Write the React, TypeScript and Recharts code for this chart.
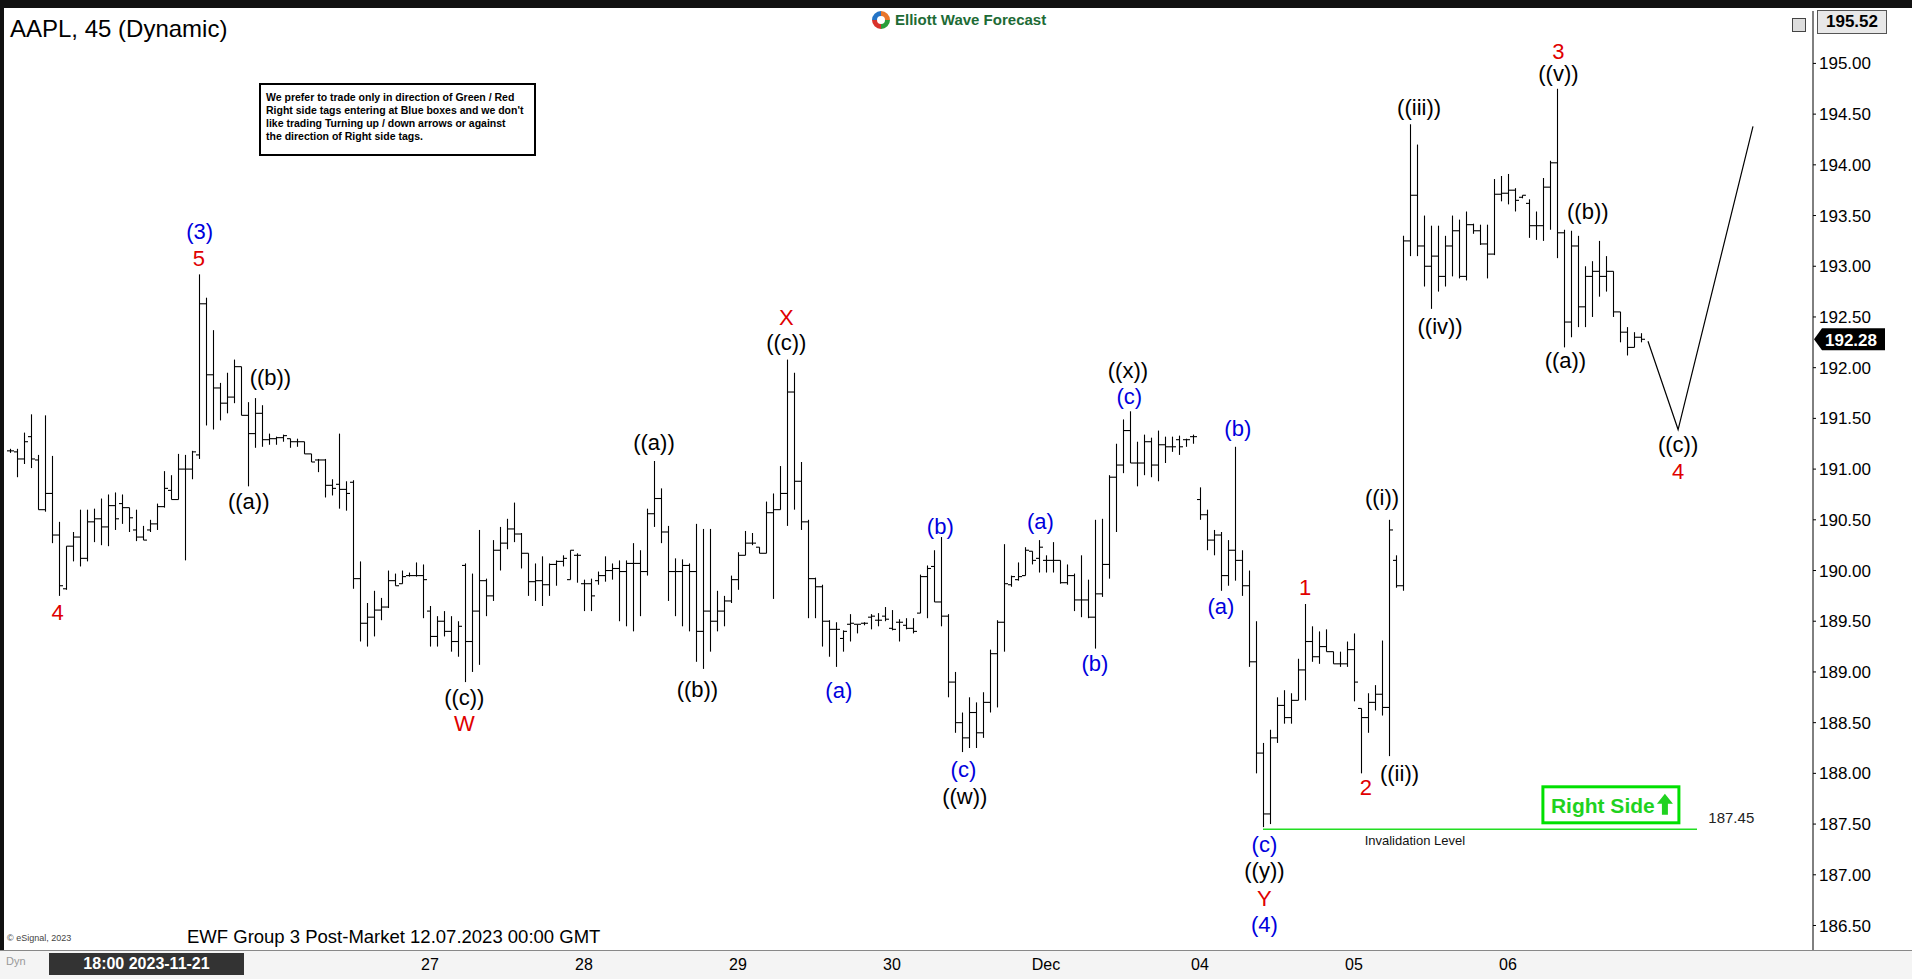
import React from 'react';
import { ComposedChart, Bar, Line, XAxis, YAxis, ReferenceLine, ReferenceDot } from 'recharts';

// each bar: [open, high, low, close]
type Ohlc = [number, number, number, number];

const beforeNov27: Ohlc[] = [
  [191.18, 191.2, 191.16, 191.18], [191.17, 191.2, 190.92, 191.1], [191.1, 191.36, 191.05, 191.27],
  [191.32, 191.54, 191.01, 191.1], [191.09, 191.14, 190.6, 190.6], [190.6, 191.53, 190.58, 190.76],
  [190.76, 191.13, 190.27, 190.35], [190.35, 190.48, 189.75, 189.85], [189.82, 190.24, 189.81, 190.24],
  [190.24, 190.38, 190.09, 190.33], [190.33, 190.6, 190.04, 190.12], [190.12, 190.6, 190.09, 190.48],
  [190.48, 190.61, 190.28, 190.51], [190.51, 190.71, 190.25, 190.43], [190.43, 190.75, 190.24, 190.64],
  [190.64, 190.77, 190.4, 190.51], [190.66, 190.75, 190.46, 190.62], [190.62, 190.62, 190.38, 190.52],
  [190.4, 190.6, 190.29, 190.33], [190.33, 190.44, 190.3, 190.3], [190.4, 190.5, 190.38, 190.46],
  [190.46, 190.66, 190.4, 190.63], [190.63, 190.98, 190.62, 190.81], [190.79, 190.94, 190.7, 190.7],
  [190.7, 191.15, 190.7, 191.0], [191.0, 191.14, 190.1, 191.0], [191.0, 191.18, 190.9, 191.17],
  [191.14, 192.92, 191.1, 192.63], [192.63, 192.69, 191.43, 191.93], [191.93, 192.37, 191.39, 191.8],
  [191.8, 191.85, 191.48, 191.65], [191.65, 191.95, 191.55, 191.71], [191.71, 192.08, 191.65, 192.01],
  [192.01, 192.01, 191.53, 191.53], [191.53, 191.66, 190.83, 191.35], [191.35, 191.7, 191.21, 191.55],
  [191.55, 191.63, 191.22, 191.29], [191.29, 191.35, 191.24, 191.3], [191.3, 191.32, 191.24, 191.31],
  [191.31, 191.34, 191.27, 191.33], [191.3, 191.3, 191.21, 191.27], [191.27, 191.3, 191.22, 191.27],
  [191.27, 191.27, 191.15, 191.15], [191.15, 191.15, 191.07, 191.07], [191.09, 191.1, 190.97, 191.09],
  [191.09, 191.1, 190.72, 190.84], [190.84, 190.9, 190.74, 190.81], [190.85, 191.35, 190.61, 190.8],
  [190.8, 190.88, 190.59, 190.76], [190.87, 190.89, 189.82, 189.92], [189.92, 190.09, 189.3, 189.48],
  [189.48, 189.68, 189.25, 189.54], [189.54, 189.8, 189.35, 189.61], [189.61, 189.73, 189.51, 189.64],
  [189.64, 190.0, 189.63, 189.9], [189.9, 189.97, 189.85, 189.85], [189.87, 190.0, 189.87, 189.94],
  [189.95, 189.98, 189.94, 189.95], [189.95, 190.08, 189.94, 189.95], [189.95, 190.06, 189.53, 189.91],
];

const nov27: Ohlc[] = [
  [189.6, 189.65, 189.25, 189.35], [189.35, 189.55, 189.25, 189.5], [189.5, 189.6, 189.35, 189.4],
  [189.4, 189.55, 189.2, 189.3], [189.3, 189.5, 189.15, 189.45], [190.05, 190.07, 188.9, 189.3],
  [189.3, 189.97, 189.0, 189.6], [189.6, 190.4, 189.07, 189.9], [189.9, 189.92, 189.55, 189.75],
  [189.75, 190.3, 189.7, 190.2], [190.2, 190.43, 190.0, 190.27], [190.27, 190.51, 190.21, 190.41],
  [190.41, 190.67, 190.28, 190.36], [190.36, 190.37, 190.02, 190.17], [190.17, 190.17, 189.75, 189.89],
  [189.89, 190.07, 189.7, 189.9], [189.9, 190.14, 189.65, 189.86], [189.86, 190.07, 189.75, 190.06],
  [190.06, 190.1, 189.85, 190.09], [190.09, 190.15, 190.04, 190.12], [189.91, 190.2, 189.91, 190.2],
  [190.15, 190.17, 189.88, 190.15],
];

const nov28: Ohlc[] = [
  [189.87, 189.91, 189.6, 189.87], [189.87, 189.92, 189.6, 189.75], [189.9, 189.99, 189.86, 189.95],
  [189.95, 190.14, 189.89, 190.0], [190.0, 190.07, 189.91, 190.02], [190.02, 190.1, 189.5, 189.99],
  [189.99, 190.1, 189.45, 190.07], [190.07, 190.27, 189.4, 190.07], [190.07, 190.2, 189.55, 189.99],
  [189.99, 190.61, 189.95, 190.56], [190.56, 191.08, 190.43, 190.71], [190.71, 190.81, 190.27, 190.38],
  [190.38, 190.44, 189.7, 189.99], [189.99, 190.12, 189.55, 189.99], [189.99, 190.11, 189.45, 190.05],
  [190.05, 190.07, 189.4, 189.99], [189.99, 190.46, 189.1, 189.4], [189.4, 190.41, 189.03, 189.6],
  [189.6, 190.41, 189.2, 189.5], [189.5, 189.8, 189.4, 189.6], [189.6, 189.75, 189.45, 189.7],
  [189.7, 189.95, 189.68, 189.91],
];

const nov29: Ohlc[] = [
  [189.91, 190.18, 189.81, 190.15], [190.15, 190.39, 190.15, 190.27], [190.27, 190.37, 190.25, 190.27],
  [190.23, 190.23, 190.17, 190.17], [190.17, 190.68, 190.17, 190.57], [190.57, 190.76, 189.72, 190.6],
  [190.6, 191.03, 190.6, 190.76], [190.76, 192.08, 190.44, 191.76], [191.76, 191.95, 190.6, 190.88],
  [190.88, 191.07, 190.4, 190.48], [190.48, 190.5, 189.53, 189.92], [189.92, 189.93, 189.53, 189.84],
  [189.84, 189.86, 189.25, 189.5], [189.5, 189.51, 189.15, 189.42], [189.42, 189.49, 189.05, 189.42],
  [189.33, 189.41, 189.2, 189.4], [189.47, 189.57, 189.3, 189.48], [189.47, 189.47, 189.38, 189.47],
  [189.48, 189.49, 189.46, 189.48], [189.54, 189.57, 189.42, 189.55], [189.51, 189.58, 189.45, 189.51],
  [189.55, 189.64, 189.5, 189.52],
];

const nov30: Ohlc[] = [
  [189.43, 189.61, 189.41, 189.42], [189.49, 189.52, 189.3, 189.49], [189.46, 189.53, 189.42, 189.43],
  [189.43, 189.53, 189.38, 189.4], [189.58, 189.96, 189.58, 189.94], [189.94, 190.05, 189.53, 190.02],
  [190.04, 190.2, 189.69, 189.69], [189.69, 190.33, 189.45, 189.55], [189.55, 189.57, 188.75, 188.9],
  [188.9, 189.0, 188.4, 188.5], [188.5, 188.6, 188.21, 188.35], [188.35, 188.75, 188.25, 188.6],
  [188.6, 188.7, 188.25, 188.4], [188.4, 188.8, 188.35, 188.7], [188.7, 189.22, 188.6, 189.18],
  [189.18, 189.51, 188.65, 189.49], [189.49, 190.26, 189.2, 189.87], [189.86, 189.95, 189.84, 189.94],
  [189.91, 190.08, 189.9, 189.94], [189.95, 190.23, 189.95, 190.2], [190.19, 190.19, 190.06, 190.1],
  [190.12, 190.3, 189.98, 190.23],
];

const dec1: Ohlc[] = [
  [190.1, 190.15, 189.98, 190.1], [190.1, 190.28, 189.98, 190.1], [190.1, 190.1, 189.87, 189.88],
  [189.88, 190.06, 189.86, 189.95], [189.95, 189.97, 189.6, 189.71], [189.71, 190.15, 189.54, 189.71],
  [189.71, 189.91, 189.53, 189.54], [189.54, 190.5, 189.23, 189.77], [189.77, 190.51, 189.74, 190.06],
  [190.06, 190.94, 189.92, 190.92], [190.92, 191.25, 190.38, 191.04], [191.04, 191.49, 190.96, 191.38],
  [191.38, 191.57, 191.06, 191.06], [191.06, 191.27, 190.83, 191.06], [191.06, 191.34, 190.94, 191.27],
  [191.27, 191.31, 190.92, 191.04], [191.04, 191.38, 190.88, 191.24], [191.24, 191.32, 191.06, 191.22],
  [191.22, 191.32, 191.17, 191.22], [191.29, 191.33, 191.14, 191.22], [191.29, 191.3, 191.22, 191.29],
  [191.32, 191.34, 191.25, 191.32],
];

const dec4: Ohlc[] = [
  [190.7, 190.82, 190.5, 190.55], [190.55, 190.6, 190.2, 190.3], [190.3, 190.4, 190.15, 190.35],
  [190.35, 190.38, 189.8, 189.95], [189.95, 190.3, 189.85, 190.2], [190.2, 191.22, 189.9, 190.1],
  [190.1, 190.2, 189.75, 189.85], [189.85, 190.0, 189.05, 189.1], [189.1, 189.5, 188.0, 188.2],
  [188.2, 188.3, 187.47, 187.6], [187.6, 188.43, 187.5, 188.35], [188.35, 188.75, 188.3, 188.67],
  [188.67, 188.82, 188.49, 188.55], [188.55, 188.79, 188.49, 188.72], [188.72, 189.13, 188.72, 189.02],
  [189.02, 189.67, 188.72, 189.3], [189.3, 189.45, 189.1, 189.15], [189.15, 189.4, 189.08, 189.25],
  [189.25, 189.42, 189.2, 189.2], [189.2, 189.2, 189.08, 189.08], [189.08, 189.2, 189.05, 189.08],
  [189.08, 189.3, 189.05, 189.22],
];

const dec5: Ohlc[] = [
  [189.22, 189.38, 188.71, 188.9], [188.64, 188.64, 188.0, 188.55], [188.55, 188.79, 188.4, 188.7],
  [188.7, 188.87, 188.62, 188.78], [188.78, 189.31, 188.57, 188.65], [188.65, 190.5, 188.17, 190.4],
  [190.1, 190.15, 189.83, 189.85], [189.85, 193.3, 189.8, 193.25], [193.25, 194.4, 193.1, 193.7],
  [193.7, 194.2, 193.1, 193.2], [193.2, 193.5, 192.8, 193.0], [193.0, 193.4, 192.58, 193.1],
  [193.1, 193.4, 192.75, 192.9], [192.9, 193.3, 192.8, 193.2], [193.2, 193.5, 192.9, 193.35],
  [193.35, 193.46, 192.88, 192.9], [192.9, 193.54, 192.86, 193.41], [193.41, 193.42, 193.32, 193.35],
  [193.35, 193.41, 193.21, 193.22], [193.22, 193.41, 192.88, 193.12], [193.12, 193.86, 193.11, 193.71],
  [193.71, 193.89, 193.64, 193.72],
];

const dec6: Ohlc[] = [
  [193.72, 193.91, 193.61, 193.75], [193.75, 193.77, 193.54, 193.65], [193.68, 193.7, 193.67, 193.7],
  [193.62, 193.66, 193.28, 193.4], [193.4, 193.54, 193.26, 193.4], [193.4, 193.87, 193.25, 193.78],
  [193.78, 194.04, 193.36, 194.02], [194.02, 194.75, 193.08, 193.33], [193.33, 193.36, 192.2, 192.45],
  [192.45, 193.35, 192.3, 193.2], [193.2, 193.3, 192.4, 192.6], [192.6, 193.0, 192.4, 192.9],
  [192.9, 193.05, 192.5, 192.95], [192.95, 193.25, 192.7, 192.9], [192.9, 193.1, 192.75, 192.95],
  [192.95, 192.95, 192.5, 192.55], [192.55, 192.55, 192.25, 192.35], [192.35, 192.4, 192.12, 192.2],
  [192.2, 192.35, 192.2, 192.3], [192.3, 192.34, 192.25, 192.28],
];

const dayTicks = [60, 82, 104, 126, 148, 170, 192, 214];
const dayLabels = ['27', '28', '29', '30', 'Dec', '04', '05', '06'];
const priceTicks = [186.5, 187, 187.5, 188, 188.5, 189, 189.5, 190, 190.5, 191, 191.5, 192, 192.5, 193, 193.5, 194, 194.5, 195];

// projected path after the last bar
const projIdx = [234, 238.3, 249];
const projVal = [192.26, 191.39, 194.38];

const invalidationPrice = 187.45;
const invalidationFrom = 179;
const invalidationTo = 241;
const lastPrice = 192.28;
const scaleTop = 195.52;

const RED = '#e00000';
const BLUE = '#0000dd';
const BLACK = '#000000';

const waveText = ['4', '(3)', '5', '((b))', '((a))', '((c))', 'W', '((a))', '((b))', 'X', '((c))', '(a)', '(b)', '(c)', '((w))', '(a)', '(b)', '((x))', '(c)', '(a)', '(b)', '1', '(c)', '((y))', 'Y', '(4)', '2', '((i))', '((ii))', '((iii))', '((iv))', '3', '((v))', '((a))', '((b))', '((c))', '4'];
const waveIdx = [6.8, 27.1, 27, 37.2, 34.1, 64.9, 64.9, 92, 98.2, 110.9, 110.9, 118.4, 132.9, 136.2, 136.4, 147.2, 155, 159.7, 159.9, 173, 175.4, 185, 179.2, 179.2, 179.2, 179.2, 193.7, 196, 198.5, 201.3, 204.3, 221.2, 221.2, 222.2, 225.4, 238.3, 238.3];
const wavePrice = [189.59, 193.34, 193.08, 191.9, 190.68, 188.75, 188.49, 191.26, 188.83, 192.49, 192.25, 188.82, 190.43, 188.04, 187.77, 190.48, 189.08, 191.97, 191.72, 189.65, 191.4, 189.83, 187.3, 187.04, 186.77, 186.51, 187.86, 190.72, 188.0, 194.57, 192.41, 195.12, 194.9, 192.07, 193.54, 191.24, 190.98];
const waveColor = [RED, BLUE, RED, BLACK, BLACK, BLACK, RED, BLACK, BLACK, RED, BLACK, BLUE, BLUE, BLUE, BLACK, BLUE, BLUE, BLACK, BLUE, BLUE, BLUE, RED, BLUE, BLACK, RED, BLUE, RED, BLACK, BLACK, BLACK, BLACK, RED, BLACK, BLACK, BLACK, BLACK, RED];

const bars = [...beforeNov27, ...nov27, ...nov28, ...nov29, ...nov30, ...dec1, ...dec4, ...dec5, ...dec6];
const rows: any[] = bars.map(([o, h, l, c], i) => ({ i, o, h, l, c, range: [l, h] }));
projIdx.forEach((x, k) => rows.push({ i: x, proj: projVal[k] }));

const FONT = '"Liberation Sans", Arial, sans-serif';
const W = 1912;
const H = 979;
const X_DOMAIN: [number, number] = [-0.714, 257.571];
const Y_DOMAIN: [number, number] = [186.2584, 195.5168];

function OhlcShape(props: any) {
  const { x, y, width, height, payload } = props;
  if (!payload || payload.h == null) return null;
  const top = Math.min(y, y + height);
  const bot = Math.max(y, y + height);
  const cx = Math.round(x + width / 2) + 0.5;
  const span = payload.h - payload.l;
  const k = span > 0 ? (bot - top) / span : 0;
  const yo = top + (payload.h - payload.o) * k;
  const yc = top + (payload.h - payload.c) * k;
  return (
    <g stroke="#000" strokeWidth={1.1}>
      <line x1={cx} x2={cx} y1={top} y2={Math.max(bot, top + 1)} />
      <line x1={cx - 3.5} x2={cx} y1={yo} y2={yo} />
      <line x1={cx} x2={cx + 3.5} y1={yc} y2={yc} />
    </g>
  );
}

const textShape = (text: string, color: string, size = 22, weight = 400) => (p: any) => (
  <text x={p.cx} y={p.cy} textAnchor="middle" dominantBaseline="central" fill={color} fontSize={size} fontWeight={weight} fontFamily={FONT}>
    {text}
  </text>
);

const RightSideBox = (p: any) => {
  const x0 = p.cx - 68;
  const y0 = p.cy - 18;
  return (
    <g>
      <rect x={x0} y={y0} width={136} height={36} fill="#fff" stroke="#00e000" strokeWidth={3} />
      <text x={x0 + 8} y={p.cy + 1} dominantBaseline="central" fill="#1fd21f" fontSize={21} fontWeight={700} fontFamily={FONT}>
        Right Side
      </text>
      <polygon
        points={`${x0 + 122},${p.cy - 11} ${x0 + 130},${p.cy - 1} ${x0 + 125},${p.cy - 1} ${x0 + 125},${p.cy + 10} ${x0 + 119},${p.cy + 10} ${x0 + 119},${p.cy - 1} ${x0 + 114},${p.cy - 1}`}
        fill="#1fd21f"
      />
    </g>
  );
};

const LastPriceTag = (props: any) => {
  const vb = props.viewBox || {};
  const x = vb.x + vb.width;
  const y = vb.y;
  return (
    <g>
      <polygon points={`${x + 1},${y} ${x + 9},${y - 11} ${x + 72},${y - 11} ${x + 72},${y + 11} ${x + 9},${y + 11}`} fill="#000" />
      <text x={x + 12} y={y + 1} dominantBaseline="central" fill="#fff" fontSize={17} fontWeight={700} fontFamily={FONT}>
        {lastPrice.toFixed(2)}
      </text>
    </g>
  );
};

function Logo() {
  return (
    <svg width={20} height={20} viewBox="0 0 20 20" style={{ position: 'absolute', left: 871, top: 10 }}>
      <path d="M10 1 A9 9 0 0 1 19 10 L14 10 A4 4 0 0 0 10 6 Z" fill="#e8762b" />
      <path d="M19 10 A9 9 0 0 1 10 19 L10 14 A4 4 0 0 0 14 10 Z" fill="#2a9d3a" />
      <path d="M10 19 A9 9 0 0 1 1 10 L6 10 A4 4 0 0 0 10 14 Z" fill="#d9322b" />
      <path d="M1 10 A9 9 0 0 1 10 1 L10 6 A4 4 0 0 0 6 10 Z" fill="#2474c6" />
    </svg>
  );
}

export default function App() {
  return (
    <div style={{ position: 'absolute', left: 0, top: 0, width: W, height: H, background: '#fff', overflow: 'hidden', fontFamily: FONT }}>
      {/* frame and time axis strip */}
      <div style={{ position: 'absolute', left: 0, top: 0, width: W, height: 8, background: '#111' }} />
      <div style={{ position: 'absolute', left: 0, top: 0, width: 4, height: H, background: '#111' }} />
      <div style={{ position: 'absolute', left: 0, top: 950, width: W, height: 29, background: '#f4f4f4', borderTop: '1px solid #888' }} />

      <div style={{ position: 'absolute', left: 0, top: 0 }}>
        <ComposedChart width={W} height={H} data={rows} margin={{ top: 11, right: 0, bottom: 0, left: 5 }}>
          <XAxis
            type="number"
            dataKey="i"
            domain={X_DOMAIN}
            allowDataOverflow
            ticks={dayTicks}
            interval={0}
            tickFormatter={(v: number) => dayLabels[dayTicks.indexOf(v)] ?? ''}
            height={29}
            axisLine={false}
            tickLine={false}
            tickMargin={3}
            tick={{ fill: '#000', fontSize: 16, fontFamily: FONT }}
          />
          <YAxis
            orientation="right"
            domain={Y_DOMAIN}
            allowDataOverflow
            ticks={priceTicks}
            interval={0}
            width={99}
            tickFormatter={(v: number) => v.toFixed(2)}
            axisLine={{ stroke: '#000', strokeWidth: 1 }}
            tickLine={{ stroke: '#000' }}
            tickSize={3}
            tickMargin={3}
            tick={{ fill: '#000', fontSize: 17, fontFamily: FONT, textAnchor: 'start' }}
          />
          <Bar dataKey="range" shape={<OhlcShape />} barSize={5} isAnimationActive={false} />
          <Line dataKey="proj" type="linear" stroke="#000" strokeWidth={1.2} dot={false} connectNulls isAnimationActive={false} />
          <ReferenceLine
            segment={[{ x: invalidationFrom, y: invalidationPrice }, { x: invalidationTo, y: invalidationPrice }]}
            stroke="#22dd22"
            strokeWidth={1.5}
          />
          <ReferenceDot x={245.9} y={187.56} r={0} shape={textShape(invalidationPrice.toFixed(2), '#222', 15)} />
          <ReferenceDot x={200.7} y={187.34} r={0} shape={textShape('Invalidation Level', '#111', 13)} />
          <ReferenceDot x={228.7} y={187.69} r={0} shape={RightSideBox} />
          <ReferenceLine y={lastPrice} stroke="none" label={{ content: LastPriceTag }} />
          {waveText.map((t, k) => (
            <ReferenceDot key={k} x={waveIdx[k]} y={wavePrice[k]} r={0} shape={textShape(t, waveColor[k])} />
          ))}
        </ComposedChart>
      </div>

      {/* overlays */}
      <div style={{ position: 'absolute', left: 10, top: 15, fontSize: 24, color: '#000' }}>AAPL, 45 (Dynamic)</div>
      <Logo />
      <div style={{ position: 'absolute', left: 895, top: 11, fontSize: 15, fontWeight: 700, color: '#1d6b35' }}>Elliott Wave Forecast</div>
      <div
        style={{
          position: 'absolute', left: 259, top: 83, width: 268, height: 63, border: '2px solid #000', background: '#fff',
          fontSize: 10.5, fontWeight: 700, lineHeight: '13px', padding: '6px 0 0 5px', color: '#000',
        }}
      >
        We prefer to trade only in direction of Green / Red<br />
        Right side tags entering at Blue boxes and we don't<br />
        like trading Turning up / down arrows or against<br />
        the direction of Right side tags.
      </div>
      <div style={{ position: 'absolute', left: 1817, top: 10, width: 68, height: 22, background: '#e8e8e8', border: '1px solid #555', fontSize: 17, fontWeight: 700, lineHeight: '22px', textAlign: 'center' }}>
        {scaleTop.toFixed(2)}
      </div>
      <div style={{ position: 'absolute', left: 1792, top: 18, width: 12, height: 12, border: '1px solid #444', background: '#ddd' }} />
      <div style={{ position: 'absolute', left: 187, top: 926, fontSize: 18.5, color: '#000' }}>EWF Group 3 Post-Market 12.07.2023 00:00 GMT</div>
      <div style={{ position: 'absolute', left: 7, top: 933, fontSize: 9, color: '#444' }}>© eSignal, 2023</div>
      <div style={{ position: 'absolute', left: 6, top: 955, fontSize: 11, color: '#999' }}>Dyn</div>
      <div style={{ position: 'absolute', left: 49, top: 953, width: 195, height: 22, background: '#333', color: '#fff', fontSize: 16, fontWeight: 700, lineHeight: '22px', textAlign: 'center' }}>
        18:00 2023-11-21
      </div>
    </div>
  );
}
